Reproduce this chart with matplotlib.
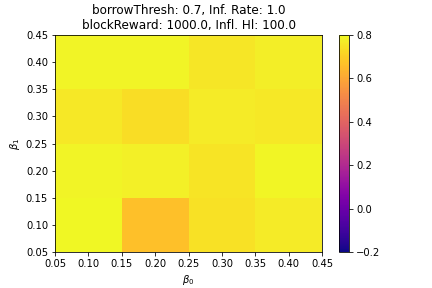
import matplotlib
matplotlib.use("Agg")
import matplotlib.pyplot as plt
import numpy as np

beta0 = [0.1, 0.2, 0.3, 0.4]
beta1 = [0.1, 0.2, 0.3, 0.4]
# rows: beta1 (bottom to top), columns: beta0
values = np.array([
    [0.795, 0.665, 0.745, 0.765],
    [0.785, 0.78, 0.75, 0.79],
    [0.76, 0.735, 0.765, 0.76],
    [0.785, 0.785, 0.755, 0.775],
])

fig = plt.figure(figsize=(6, 4), dpi=72)
ax = fig.add_axes([55/432, 1-252/288, 267/432, 217/288])
cax = fig.add_axes([339/432, 1-252/288, 10/432, 217/288])

x_edges = np.concatenate([[beta0[0]-0.05], np.array(beta0)+0.05])
y_edges = np.concatenate([[beta1[0]-0.05], np.array(beta1)+0.05])
m = ax.pcolormesh(x_edges, y_edges, values, cmap='plasma', vmin=-0.2, vmax=0.8)
ax.set_xlim(0.05, 0.45)
ax.set_ylim(0.05, 0.45)
ticks = np.arange(0.05, 0.451, 0.05)
ax.set_xticks(ticks)
ax.set_yticks(ticks)
ax.set_xticklabels([f"{t:.2f}" for t in ticks])
ax.set_yticklabels([f"{t:.2f}" for t in ticks])
ax.tick_params(labelsize=10)
ax.set_xlabel(r"$\beta_0$")
ax.set_ylabel(r"$\beta_1$")
ax.set_title("$\\beta_0$, $\\beta_1$\nborrowThresh: 0.7, Inf. Rate: 1.0\nblockReward: 1000.0, Infl. Hl: 100.0", fontsize=12)
cb = fig.colorbar(m, cax=cax)
cb.set_ticks([-0.2, 0.0, 0.2, 0.4, 0.6, 0.8])
cb.ax.tick_params(labelsize=10)

fig.savefig("out.png", dpi=72)
